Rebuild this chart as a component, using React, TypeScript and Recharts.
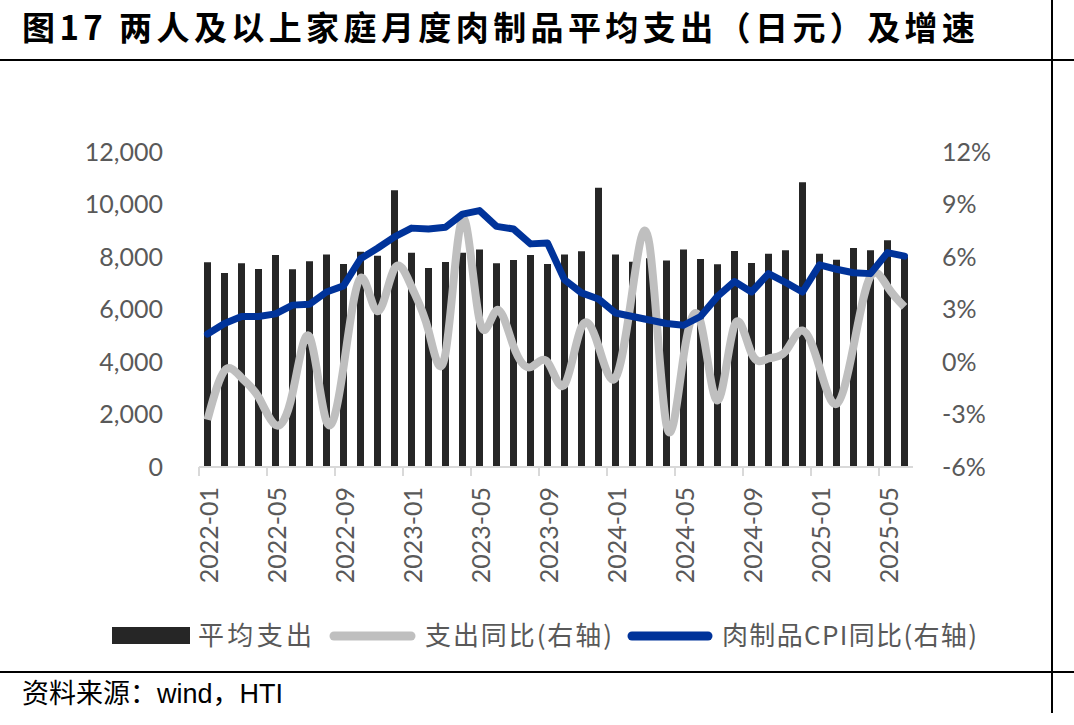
import { ComposedChart, Bar, Line, XAxis, YAxis } from 'recharts';

const months = [
  '2022-01', '2022-02', '2022-03', '2022-04', '2022-05', '2022-06', '2022-07', '2022-08', '2022-09', '2022-10', '2022-11', '2022-12',
  '2023-01', '2023-02', '2023-03', '2023-04', '2023-05', '2023-06', '2023-07', '2023-08', '2023-09', '2023-10', '2023-11', '2023-12',
  '2024-01', '2024-02', '2024-03', '2024-04', '2024-05', '2024-06', '2024-07', '2024-08', '2024-09', '2024-10', '2024-11', '2024-12',
  '2025-01', '2025-02', '2025-03', '2025-04', '2025-05', '2025-06',
];

// 平均支出（日元）
const avgSpend = [
  7800, 7390, 7760, 7540, 8080, 7530, 7840, 8100, 7730, 8200, 8050, 10540,
  8160, 7580, 7810, 8160, 8290, 7760, 7890, 8080, 7730, 8100, 8220, 10640,
  8100, 7820, 7950, 7870, 8290, 7920, 7720, 8230, 7770, 8120, 8260, 10850,
  8120, 7900, 8340, 8260, 8640, 8000,
];

// 支出同比 (%)
const spendYoY = [
  -3.3, -0.5, -0.9, -2.0, -3.6, -1.8, 1.45, -3.4, -0.3, 4.8, 2.9, 5.35,
  4.3, 1.8, 0.5, 8.2, 2.4, 2.95, 0.9, -0.3, 0.0, -1.3, 2.0, 0.9,
  -0.9, 4.1, 6.7, -3.6, 0.3, 2.3, -2.2, 2.1, 0.5, 0.2, 0.6, 1.8,
  -0.3, -2.4, 0.9, 4.9, 4.3, 3.15,
];

// 肉制品CPI同比 (%)
const meatCpiYoY = [
  1.6, 2.2, 2.6, 2.6, 2.75, 3.25, 3.3, 4.0, 4.35, 5.9, 6.5, 7.15,
  7.65, 7.6, 7.7, 8.45, 8.65, 7.75, 7.6, 6.75, 6.8, 4.7, 3.95, 3.6,
  2.8, 2.6, 2.4, 2.2, 2.1, 2.6, 3.75, 4.6, 4.0, 5.05, 4.55, 4.0,
  5.55, 5.3, 5.1, 5.05, 6.25, 6.05,
];

const leftTicks = [0, 2000, 4000, 6000, 8000, 10000, 12000];
const rightTicks = [-6, -3, 0, 3, 6, 9, 12];

const data = months.map((m, i) => ({
  month: m,
  spend: avgSpend[i],
  yoy: spendYoY[i],
  cpi: meatCpiYoY[i],
}));

const axisFont = 'Lato, "Noto Sans", sans-serif';
const cjkFont = '"Noto Sans CJK SC", sans-serif';

function DateTick(props: any) {
  const { x, y, payload } = props;
  return (
    <g>
      <line x1={x - 8.5} x2={x - 8.5} y1={y} y2={y + 9} stroke="#d9d9d9" strokeWidth={2} />
      <g transform={`translate(${x + 2},${y + 20})`}>
        <text
          transform="rotate(-90)"
          textAnchor="end"
          dy="0.35em"
          fontSize={25}
          fontFamily={axisFont}
          fill="#595959"
        >
          {payload.value}
        </text>
      </g>
    </g>
  );
}

export default function App() {
  return (
    <div style={{ position: 'absolute', left: 0, top: 0, width: 1074, height: 725, background: '#fff' }}>
      <svg width={1074} height={725} style={{ position: 'absolute', left: 0, top: 0 }}>
        <text x={22} y={40} fontSize={33} fontWeight={700} fontFamily={cjkFont} fill="#000" textLength={953}>
          图17 两人及以上家庭月度肉制品平均支出（日元）及增速
        </text>
        <line x1={0} x2={1074} y1={60} y2={60} stroke="#000" strokeWidth={2} />
        <line x1={0} x2={1074} y1={672} y2={672} stroke="#000" strokeWidth={2} />
        <line x1={1052} x2={1052} y1={0} y2={713} stroke="#000" strokeWidth={2} />

        {/* legend */}
        <rect x={112} y={627} width={78} height={17} fill="#262626" />
        <text x={198} y={645} fontSize={26} fontFamily={cjkFont} fill="#595959" textLength={114}>平均支出</text>
        <line x1={334} x2={411} y1={636} y2={636} stroke="#bfbfbf" strokeWidth={9} strokeLinecap="round" />
        <text x={425} y={645} fontSize={26} fontFamily={cjkFont} fill="#595959" textLength={187}>支出同比(右轴)</text>
        <line x1={632} x2={708} y1={636} y2={636} stroke="#00339a" strokeWidth={9} strokeLinecap="round" />
        <text x={722} y={645} fontSize={26} fontFamily={cjkFont} fill="#595959" textLength={255}>肉制品CPI同比(右轴)</text>

        <text x={22} y={703} fontSize={27} fontFamily={cjkFont} fill="#000">
          资料来源：<tspan fontFamily='"Liberation Sans Narrow", "Liberation Sans", sans-serif'>wind</tspan>，<tspan fontFamily='"Liberation Sans Narrow", "Liberation Sans", sans-serif'>HTI</tspan>
        </text>
      </svg>

      <div style={{ position: 'absolute', left: 0, top: 0 }}>
        <ComposedChart width={1074} height={600} data={data} margin={{ top: 152, right: 0, bottom: 0, left: 0 }}>
          <XAxis
            dataKey="month"
            height={133}
            interval={3}
            tickSize={0}
            tickMargin={0}
            tickLine={false}
            axisLine={{ stroke: '#d9d9d9', strokeWidth: 2 }}
            tick={<DateTick />}
          />
          <YAxis
            yAxisId="left"
            width={199}
            domain={[0, 12000]}
            ticks={leftTicks}
            tickFormatter={(v: number) => v.toLocaleString('en-US')}
            axisLine={false}
            tickLine={false}
            tickSize={0}
            tickMargin={36}
            tick={{ fontSize: 25, fontFamily: axisFont, fill: '#595959' }}
          />
          <YAxis
            yAxisId="right"
            orientation="right"
            width={161}
            domain={[-6, 12]}
            ticks={rightTicks}
            tickFormatter={(v: number) => `${v}%`}
            axisLine={false}
            tickLine={false}
            tickSize={0}
            tickMargin={29}
            tick={{ fontSize: 25, fontFamily: axisFont, fill: '#595959' }}
          />
          <Bar yAxisId="left" dataKey="spend" fill="#262626" barSize={7} isAnimationActive={false} />
          <Line
            yAxisId="right"
            type="natural"
            dataKey="yoy"
            stroke="#bfbfbf"
            strokeWidth={8}
            dot={false}
            activeDot={false}
            isAnimationActive={false}
          />
          <Line
            yAxisId="right"
            type="linear"
            dataKey="cpi"
            stroke="#00339a"
            strokeWidth={7}
            strokeLinejoin="round"
            strokeLinecap="round"
            dot={false}
            activeDot={false}
            isAnimationActive={false}
          />
        </ComposedChart>
      </div>
    </div>
  );
}
